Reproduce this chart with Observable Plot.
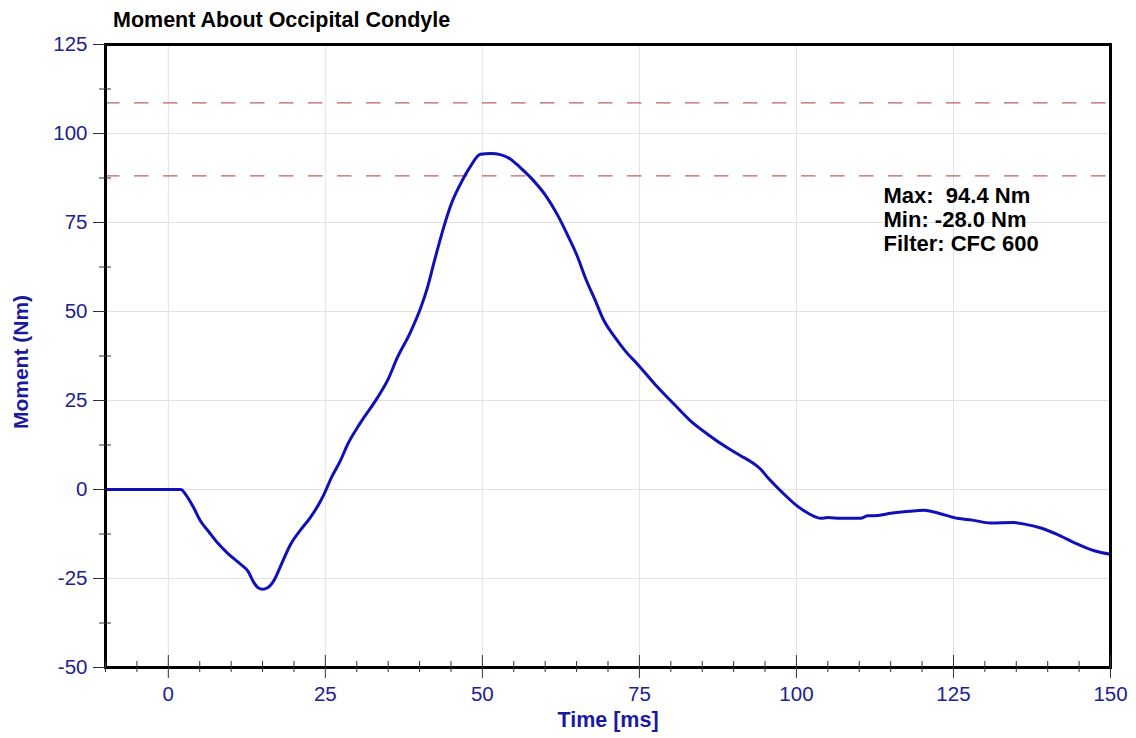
<!DOCTYPE html>
<html><head><meta charset="utf-8">
<script src="https://cdn.jsdelivr.net/npm/d3@7"></script>
<script src="https://cdn.jsdelivr.net/npm/@observablehq/plot@0.6"></script>
<style>
body{margin:0;background:#fff;font-family:"Liberation Sans",Arial,sans-serif;}
#title{height:28px;box-sizing:border-box;padding-left:113px;padding-top:9px;font-weight:bold;font-size:21.5px;color:#000;line-height:22px;white-space:nowrap;overflow:visible;}
svg text{white-space:pre;}
</style></head><body>
<div id="title">Moment About Occipital Condyle</div>
<div id="chart"></div>
<script>
const timeMs = [-10,-5,0,2.0,2.8,4,5.1,6.5,7.8,9.5,11.5,12.7,13.6,14.3,15.0,15.8,16.8,18,19.5,21,22.6,24,24.8,26,27.4,28.5,30.5,33.3,35,36.4,38.5,40.2,41.3,42.3,43.9,45,46.5,48,49.7,51.3,53,54.5,56,57.7,60.3,62,63.5,65,66.5,68,69.3,71,72.8,74.7,77.5,80.5,83,85.8,89,91.1,93,94.3,95.5,97.5,100.1,102,103.9,105,107,110.2,111.3,113,115,118,120.3,122.5,125.6,128,130.9,134.6,136.5,138.9,141.5,144.2,147.4,150];
const momentNm = [0,0,0,0,-1.5,-5,-8.8,-12,-14.9,-18,-21,-23,-26.1,-27.6,-28.0,-27.6,-25.6,-21,-15.3,-11.5,-7.9,-4,-1.3,3.5,8.1,12.5,18.5,25.8,31,36.8,44,51.1,57,63.8,74,80,85.8,90.5,94.2,94.4,94,92.8,90.5,87.6,82,77,71.7,66,59,53,47.6,43,38.8,35.2,29.5,24,19.5,15.6,11.7,9.5,7.5,5.7,3.2,-0.4,-4.6,-6.8,-8.1,-7.9,-8.1,-8.1,-7.4,-7.3,-6.7,-6.1,-5.8,-6.6,-8.1,-8.6,-9.4,-9.3,-9.8,-10.8,-12.6,-14.9,-17.2,-18.2];
const limitLines = [108.6, 88.1];
const xMajor = [0,25,50,75,100,125,150];
const xMinor = [-10,-5,5,10,15,20,30,35,40,45,55,60,65,70,80,85,90,95,105,110,115,120,130,135,140,145];
const yMajor = [-50,-25,0,25,50,75,100,125];
const yMinor = [-37.5,-12.5,12.5,37.5,62.5,87.5,112.5];
const annotLines = ["Max:  94.4 Nm","Min: -28.0 Nm","Filter: CFC 600"];
const xTitle = "Time [ms]";
const yTitle = "Moment (Nm)";

const data = timeMs.map((t,i)=>({t, m: momentNm[i]}));
const blueText = "#22228c";
const fmt = d => String(d);
const noText = () => "";

const chart = Plot.plot({
  width: 1136, height: 710,
  marginTop: 16, marginBottom: 71, marginLeft: 105, marginRight: 26,
  style: {fontFamily: '"Liberation Sans", Arial, sans-serif', background: "#fff"},
  x: {domain: [-10,150], axis: null},
  y: {domain: [-50,125], axis: null},
  marks: [
    Plot.gridX(xMajor, {stroke: "#e2e2e2", strokeOpacity: 1, strokeWidth: 1}),
    Plot.gridY(yMajor, {stroke: "#e2e2e2", strokeOpacity: 1, strokeWidth: 1}),
    Plot.ruleY(limitLines, {stroke: "#c06060", strokeWidth: 1.3, strokeDasharray: "14.5,14.5"}),
    Plot.line(data, {x: "t", y: "m", stroke: "#1010b8", strokeWidth: 3, curve: "monotone-x"}),
    Plot.frame({stroke: "#000", strokeWidth: 3}),
    Plot.axisY(yMajor, {tickSize: 12, stroke: "#333", tickFormat: noText, label: null}),
    Plot.axisY(yMinor, {tickSize: 6, stroke: "#333", tickFormat: noText, label: null}),
    Plot.axisY(yMinor, {tickSize: -6, stroke: "#333", tickFormat: noText, label: null}),
    Plot.axisY(yMajor, {tickSize: 12, tickPadding: 6, stroke: "none", fill: blueText, color: blueText, fontSize: 20.5, tickFormat: fmt, label: null}),
    Plot.axisX(xMajor, {tickSize: 11, stroke: "#333", tickFormat: noText, label: null}),
    Plot.axisX(xMajor, {tickSize: -12, stroke: "#333", tickFormat: noText, label: null}),
    Plot.axisX(xMinor, {tickSize: 5, stroke: "#333", tickFormat: noText, label: null}),
    Plot.axisX(xMinor, {tickSize: -6, stroke: "#333", tickFormat: noText, label: null}),
    Plot.axisX(xMajor, {tickSize: 11, tickPadding: 8, stroke: "none", fill: blueText, color: blueText, fontSize: 20.5, tickFormat: fmt, label: null}),
    Plot.text([xTitle], {frameAnchor: "bottom", lineAnchor: "middle", textAnchor: "middle", dy: 53, fontSize: 21.5, fontWeight: "bold", fill: "#1a1aa0"}),
    Plot.text([yTitle], {frameAnchor: "left", lineAnchor: "middle", textAnchor: "middle", dx: -84, dy: 6, rotate: -90, fontSize: 21, fontWeight: "bold", fill: "#1a1aa0"}),
    Plot.text([annotLines.join("\n")], {frameAnchor: "top-left", lineAnchor: "middle", textAnchor: "start", dx: 778, dy: 175, lineHeight: 1.1, fontSize: 22, fontWeight: "bold", fill: "#000"})
  ]
});
document.getElementById("chart").appendChild(chart);
</script>
</body></html>
